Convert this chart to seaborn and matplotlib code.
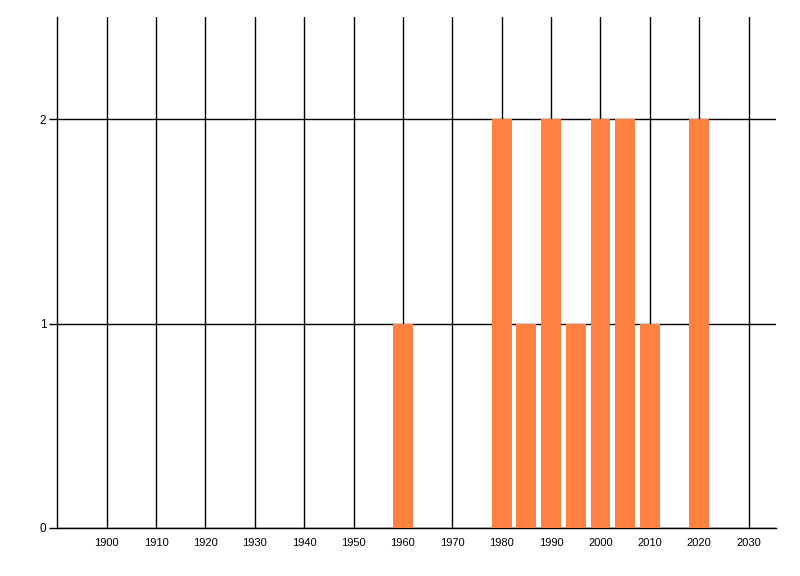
import matplotlib
matplotlib.use("Agg")
import matplotlib.pyplot as plt
import pandas as pd
import seaborn as sns

# yearly counts
years = [1960, 1980, 1985, 1990, 1995, 2000, 2005, 2010, 2020]
counts = [1, 2, 1, 2, 1, 2, 2, 1, 2]
xticks = list(range(1900, 2031, 10))
yticks = [0, 1, 2]

sns.set_style("white")
plt.rcParams['font.family'] = ['Liberation Sans', 'DejaVu Sans']

df = pd.DataFrame({'year': years, 'count': counts})

fig = plt.figure(figsize=(8, 5.76), dpi=100)
ax = fig.add_axes([57.3 / 800, 48 / 576, (775.7 - 57.3) / 800, (528 - 17) / 576])

sns.barplot(data=df, x='year', y='count', native_scale=True, color='#FF8142',
            saturation=1, width=0.8, linewidth=0, ax=ax, zorder=3)

ax.set_xlim(1890, 2035.5)
ax.set_ylim(0, 2.5)
ax.set_xticks(xticks)
ax.set_yticks(yticks)
ax.set_xticklabels([str(t) for t in xticks])
ax.set_yticklabels([str(t) for t in yticks])
ax.tick_params(axis='x', length=0, pad=7, labelsize=8, colors='black')
ax.tick_params(axis='y', length=6, width=1, pad=2, labelsize=8.5, colors='black', direction='out', left=True)

ax.set_axisbelow(True)
ax.grid(True, color='black', linewidth=1)
for s in ['top', 'right']:
    ax.spines[s].set_visible(False)
for s in ['left', 'bottom']:
    ax.spines[s].set_color('black')
    ax.spines[s].set_linewidth(1)
ax.set_xlabel('')
ax.set_ylabel('')

fig.savefig('out.png', dpi=100)
